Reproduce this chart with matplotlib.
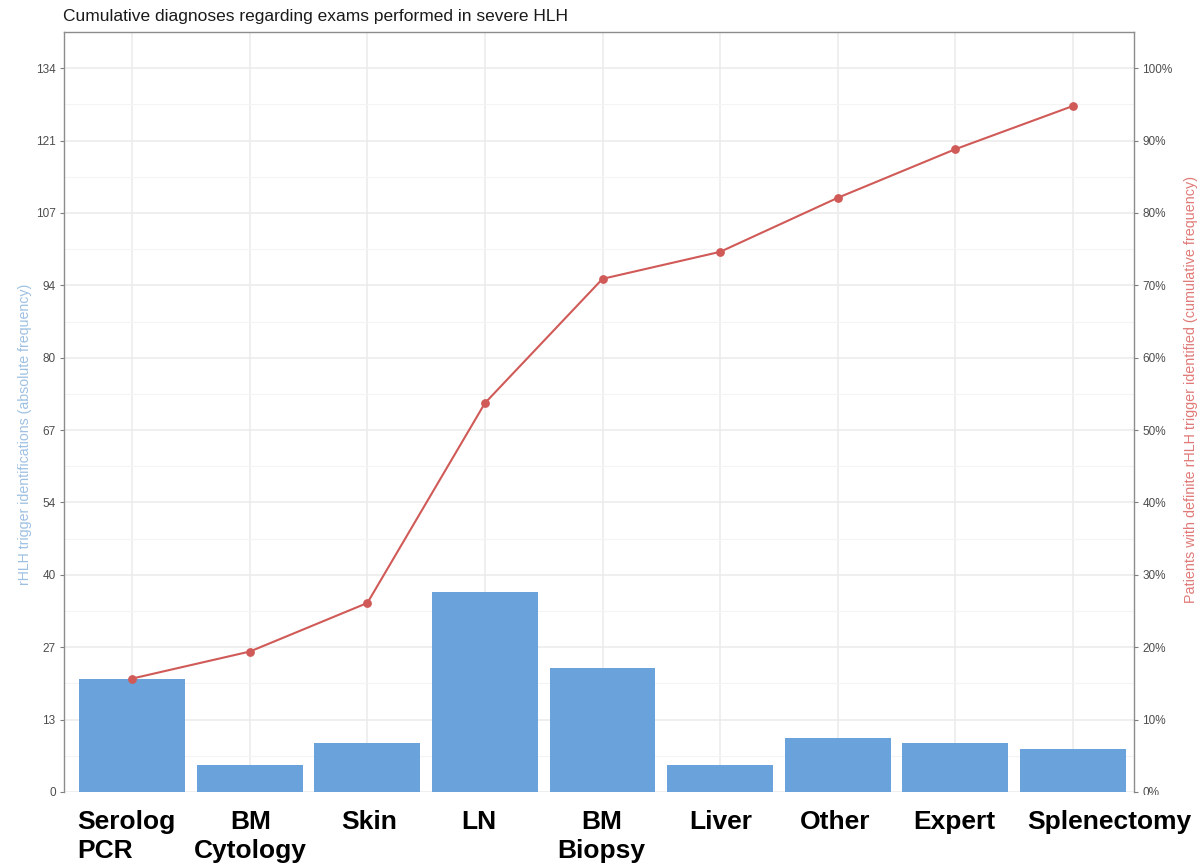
import numpy as np
import matplotlib
matplotlib.use("Agg")
import matplotlib.pyplot as plt
from matplotlib.ticker import FixedLocator, FuncFormatter
from matplotlib.patches import Rectangle
import matplotlib.transforms as mtransforms

plt.rcParams['font.family'] = ['Liberation Sans', 'DejaVu Sans']

# data
exams = ["Serolog\nPCR", "BM\nCytology", "Skin", "LN", "BM\nBiopsy",
         "Liver", "Other", "Expert", "Splenectomy"]
identifications = [21, 5, 9, 37, 23, 5, 10, 9, 8]
total_patients = 134

cumulative = np.cumsum(identifications)
cumulative_pct = cumulative / total_patients * 100

bar_color = "#6aa3dc"
line_color = "#d05a57"
grid_major = "#ebebeb"
grid_minor = "#f4f4f4"
tick_grey = "#4d4d4d"

fig = plt.figure(figsize=(11.99, 8.68), dpi=100)
ax = fig.add_axes([64 / 1199, 1 - 792 / 868, (1134 - 64) / 1199, (792 - 32) / 868])

x = np.arange(len(exams))
ymax = total_patients * 1.05

ax.set_axisbelow(True)
ax.bar(x, identifications, width=0.9, color=bar_color, zorder=2)
ax.set_xlim(-0.58, len(exams) - 1 + 0.52)
ax.set_ylim(0, ymax)

major = [total_patients * k / 10 for k in range(11)]
minor = [total_patients * (k + 0.5) / 10 for k in range(10)]
ax.yaxis.set_major_locator(FixedLocator(major))
ax.yaxis.set_minor_locator(FixedLocator(minor))
ax.yaxis.set_major_formatter(FuncFormatter(lambda v, p: f"{v:.0f}"))
ax.grid(True, which="major", color=grid_major, linewidth=1.1, zorder=0)
ax.grid(True, which="minor", axis="y", color=grid_minor, linewidth=0.8, zorder=0)
ax.tick_params(axis="y", which="major", colors="#7f7f7f", labelcolor=tick_grey,
               labelsize=8.5, length=3, width=0.8, pad=3)
ax.tick_params(axis="y", which="minor", length=0)

ax.set_xticks(x)
ax.set_xticklabels([])
ax.tick_params(axis="x", length=0)

for side in ["left", "right", "top"]:
    ax.spines[side].set_color("#8c8c8c")
    ax.spines[side].set_linewidth(1.0)
ax.spines["bottom"].set_visible(False)

ax.set_ylabel("rHLH trigger identifications (absolute frequency)",
              color="#9dc0e2", fontsize=10.2)
ax.yaxis.set_label_coords(-32 / 1070, 0.47)

# secondary axis for cumulative frequency
ax2 = ax.twinx()
ax2.set_ylim(0, ymax / total_patients * 100)
ax2.yaxis.set_major_locator(FixedLocator(np.arange(0, 101, 10)))
ax2.yaxis.set_major_formatter(FuncFormatter(lambda v, p: f"{v:.0f}%"))
ax2.tick_params(axis="y", colors="#7f7f7f", labelcolor=tick_grey,
                labelsize=8.5, length=3, width=0.8, pad=3)
for side in ["left", "right", "top", "bottom"]:
    ax2.spines[side].set_visible(False)
ax2.plot(x, cumulative_pct, color=line_color, linewidth=1.5, zorder=3)
ax2.scatter(x, cumulative_pct, color=line_color, s=28, zorder=4)
ax2.set_ylabel("Patients with definite rHLH trigger identified (cumulative frequency)",
               color="#e07a78", fontsize=10.4)
ax2.yaxis.set_label_coords(1 + 50 / 1070, 0.53)

# white strip pasted over the bottom of the panel, holding the category labels
fig.add_artist(Rectangle((57 / 1199, 0), 1 - 57 / 1199, 1 - 795 / 868,
                         transform=fig.transFigure, facecolor="white",
                         edgecolor="none", zorder=5))

label_shift = [-2, 1, 2, -6, -1, 1, -3, -1, 36]
label_align = ["left", "center", "center", "center", "center",
               "center", "center", "center", "center"]
for i, name in enumerate(exams):
    offset = mtransforms.ScaledTranslation(label_shift[i] / 100, -18 / 100, fig.dpi_scale_trans)
    trans = mtransforms.blended_transform_factory(ax.transData, ax.transAxes) + offset
    ha = label_align[i]
    xpos = i - 0.45 if ha == "left" else i
    fig.text(xpos, 0, name, transform=trans, ha=ha, va="top", multialignment=ha,
             fontsize=19, fontweight="bold", color="black", linespacing=1.27, zorder=6)

fig.text(63 / 1199, 1 - 16 / 868, "Cumulative diagnoses regarding exams performed in severe HLH",
         fontsize=12.5, ha="left", va="center", color="#1a1a1a")

fig.savefig("out.png", dpi=100)
